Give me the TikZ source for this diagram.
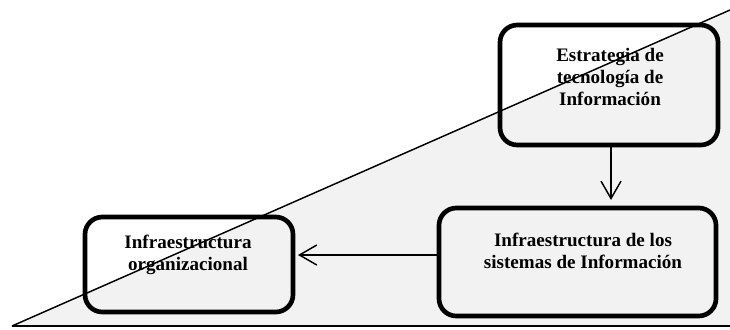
\documentclass[tikz,border=0pt]{standalone}
\usepackage{fontspec}
\setmainfont{Liberation Serif}
\usetikzlibrary{arrows.meta}
\definecolor{wedgegray}{HTML}{F2F2F2}
\begin{document}
\begin{tikzpicture}[x=0.75pt,y=-0.75pt,
  box/.style={draw, line width=3.5pt, rounded corners=13pt, inner sep=0pt},
  caption/.style={font=\fontsize{14.3}{16.3}\selectfont\bfseries, align=center, inner sep=0pt},
  rule/.style={line width=1.1pt},
  link/.style={line width=1.1pt, -{Straight Barb[length=13pt,width=15pt,line width=1.1pt]}}]
\useasboundingbox (0,0) rectangle (730,329);
% shaded wedge under the diagonal
\fill[wedgegray] (12,326) -- (730,10) -- (730,326) -- cycle;
\draw[rule] (12,326) -- (730,10);
\draw[rule] (12,326) -- (730,326);

% frames
\node[box, minimum width=163.5pt, minimum height=90pt] (strat) at (609,85) {};
\node[box, minimum width=207.75pt, minimum height=81pt] (infsi) at (577.5,262) {};
\node[box, minimum width=156pt, minimum height=71.25pt] (inforg) at (189,264.5) {};

% captions
\node[caption] (stratT) at (610,77) {Estrategia de\\tecnología de\\Información};
\node[caption] (infsiT) at (583,251) {Infraestructura de los\\sistemas de Información};
\node[caption] (inforgT) at (188,255) {Infraestructura\\organizacional};

% connectors
\coordinate (downx) at (611,0);
\coordinate (lefty) at (0,255);
\draw[link, shorten >=4.3pt] (downx |- strat.south) -- (downx |- infsi.north);
\draw[link, shorten >=2pt] (infsi.west |- lefty) -- (inforg.east |- lefty);
\end{tikzpicture}
\end{document}
